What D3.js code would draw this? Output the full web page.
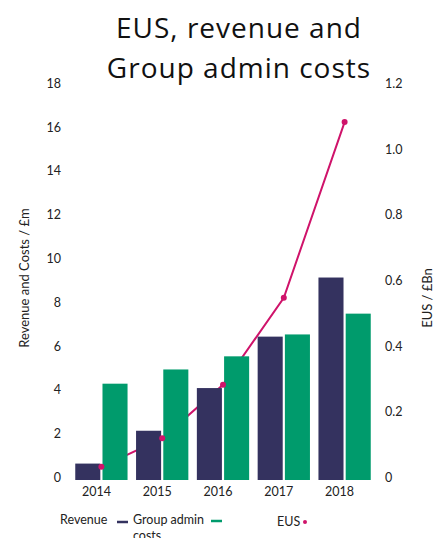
<!DOCTYPE html>
<html>
<head>
<meta charset="utf-8">
<script src="https://cdn.jsdelivr.net/npm/d3@7"></script>
<style>
  body { margin: 0; background: #fff; }
  svg { display: block; font-family: "Lato", "Open Sans", sans-serif; }
</style>
</head>
<body>
<div id="chart"></div>
<script>
// chart values
var years = ["2014", "2015", "2016", "2017", "2018"];
var revenue = [0.75, 2.25, 4.2, 6.55, 9.25];
var adminCosts = [4.4, 5.05, 5.65, 6.65, 7.6];
var eus = [0.04, 0.127, 0.29, 0.555, 1.09];
var leftTicks = [0, 2, 4, 6, 8, 10, 12, 14, 16, 18];
var rightTicks = [0, 0.2, 0.4, 0.6, 0.8, 1.0, 1.2];

var width = 438, height = 538;
var navy = "#34325f", green = "#009b6c", pink = "#cf136a";

var svg = d3.select("#chart").append("svg")
    .attr("width", width)
    .attr("height", height);

var x = d3.scaleBand()
    .domain(years)
    .range([71, 375])
    .paddingInner(0.14)
    .paddingOuter(0.07);

var sub = d3.scaleBand()
    .domain(["rev", "cost"])
    .range([0, x.bandwidth()])
    .paddingInner(0.08);

var yLeft = d3.scaleLinear().domain([0, 18]).range([480, 86]);
var yRight = d3.scaleLinear().domain([0, 1.2]).range([480, 86]);

// title
var title = svg.append("g")
    .style("font-family", "'Open Sans', sans-serif")
    .style("font-size", "28px")
    .style("letter-spacing", "1px")
    .style("fill", "#111");
title.append("text")
    .attr("x", 239).attr("y", 38)
    .attr("text-anchor", "middle")
    .text("EUS, revenue and");
title.append("text")
    .attr("x", 239).attr("y", 78)
    .attr("text-anchor", "middle")
    .text("Group admin costs");

// EUS line (sits behind the bars)
var line = d3.line()
    .x(function(d, i) { return x(years[i]) + x.bandwidth() / 2; })
    .y(function(d) { return yRight(d); });

svg.append("path")
    .datum(eus)
    .attr("d", line)
    .attr("fill", "none")
    .attr("stroke", pink)
    .attr("stroke-width", 2);

// bars
var groups = svg.selectAll(".year")
    .data(years)
  .enter().append("g")
    .attr("transform", function(d) { return "translate(" + x(d) + ",0)"; });

groups.append("rect")
    .attr("x", sub("rev"))
    .attr("width", sub.bandwidth())
    .attr("y", function(d, i) { return yLeft(revenue[i]); })
    .attr("height", function(d, i) { return yLeft(0) - yLeft(revenue[i]); })
    .attr("fill", navy);

groups.append("rect")
    .attr("x", sub("cost"))
    .attr("width", sub.bandwidth())
    .attr("y", function(d, i) { return yLeft(adminCosts[i]); })
    .attr("height", function(d, i) { return yLeft(0) - yLeft(adminCosts[i]); })
    .attr("fill", green);

// EUS dots
svg.selectAll(".dot")
    .data(eus)
  .enter().append("circle")
    .attr("cx", function(d, i) { return x(years[i]) + x.bandwidth() / 2; })
    .attr("cy", function(d) { return yRight(d); })
    .attr("r", 3)
    .attr("fill", pink);

// axes (labels only)
var leftAxis = svg.append("g")
    .attr("transform", "translate(61,0)")
    .call(d3.axisLeft(yLeft).tickValues(leftTicks).tickSize(0).tickPadding(0));
leftAxis.select(".domain").remove();

var rightAxis = svg.append("g")
    .attr("transform", "translate(385,0)")
    .call(d3.axisRight(yRight).tickValues(rightTicks).tickSize(0).tickPadding(0)
      .tickFormat(function(d) { return d === 0 ? "0" : d3.format(".1f")(d); }));
rightAxis.select(".domain").remove();

var bottomAxis = svg.append("g")
    .attr("transform", "translate(-5,487)")
    .call(d3.axisBottom(x).tickSize(0).tickPadding(0));
bottomAxis.select(".domain").remove();

svg.selectAll(".tick text")
    .style("font-family", "Lato, sans-serif")
    .style("font-size", "12.5px")
    .style("fill", "#222");
leftAxis.selectAll(".tick text").attr("dy", "0.35em").attr("y", -3);
rightAxis.selectAll(".tick text").attr("dy", "0.35em").attr("y", -3);

// axis titles
svg.append("text")
    .attr("transform", "translate(29,278) rotate(-90)")
    .attr("text-anchor", "middle")
    .style("font-size", "13px")
    .style("fill", "#222")
    .text("Revenue and Costs / £m");

svg.append("text")
    .attr("transform", "translate(432,298) rotate(-90)")
    .attr("text-anchor", "middle")
    .style("font-size", "13px")
    .style("fill", "#222")
    .text("EUS / £Bn");

// legend
var legend = svg.append("g").style("font-size", "12.5px").style("fill", "#222");
legend.append("text").attr("x", 60).attr("y", 524).text("Revenue");
legend.append("line")
    .attr("x1", 117).attr("x2", 128).attr("y1", 522).attr("y2", 522)
    .attr("stroke", navy).attr("stroke-width", 2.5);
legend.append("text").attr("x", 133).attr("y", 524).text("Group admin");
legend.append("text").attr("x", 133).attr("y", 540).text("costs");
legend.append("line")
    .attr("x1", 211).attr("x2", 222).attr("y1", 521).attr("y2", 521)
    .attr("stroke", green).attr("stroke-width", 2.5);
legend.append("text").attr("x", 277).attr("y", 526).text("EUS");
legend.append("circle").attr("cx", 305).attr("cy", 522).attr("r", 2).attr("fill", pink);
</script>
</body>
</html>
